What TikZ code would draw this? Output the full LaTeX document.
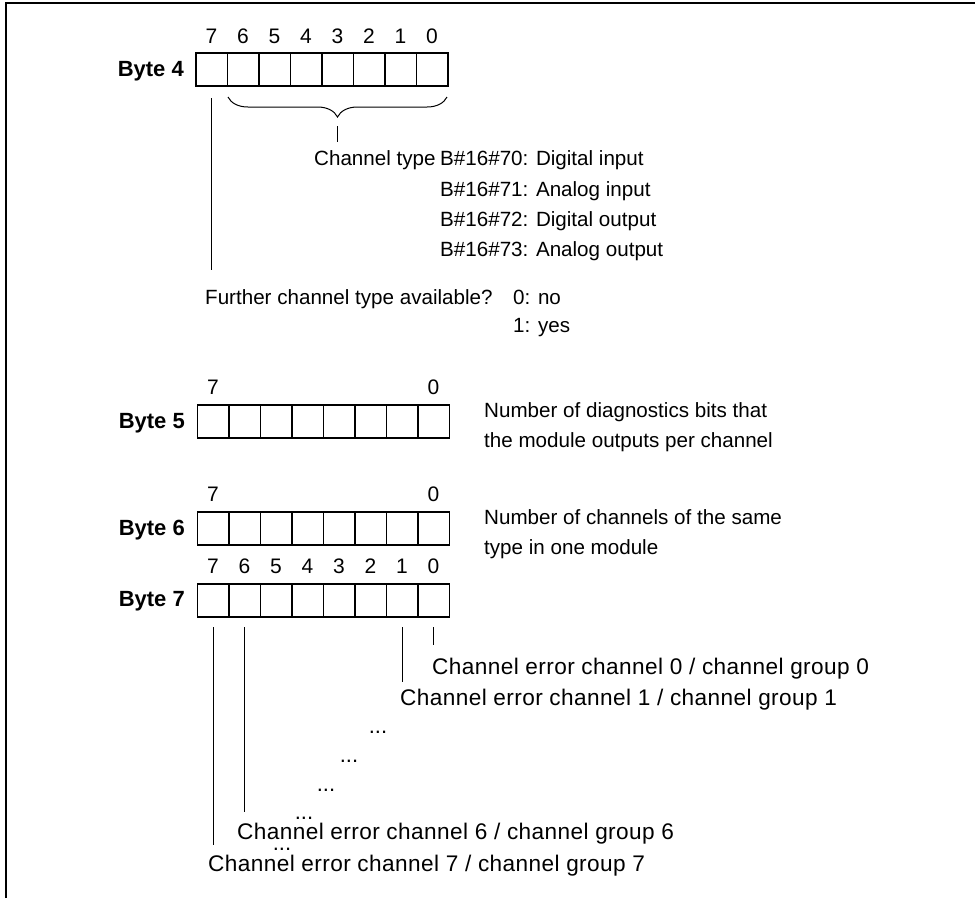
\documentclass[tikz,border=0pt]{standalone}
\usepackage{fontspec}
\setmainfont{Liberation Sans}
\newfontfamily\errfont[LetterSpace=1.8]{Liberation Sans}
\usetikzlibrary{decorations.pathreplacing}
\begin{document}
\begin{tikzpicture}[x=1pt,y=-1pt,
  txt/.style={anchor=base west, inner sep=0pt, font=\fontsize{20.6}{24}\selectfont},
  errtxt/.style={anchor=base west, inner sep=0pt, font=\errfont\fontsize{22.6}{27}\selectfont},
  bitlbl/.style={anchor=base, inner sep=0pt, font=\fontsize{21}{25}\selectfont},
  bytelbl/.style={anchor=base east, inner sep=0pt, font=\fontsize{22}{26}\selectfont\bfseries},
  dots/.style={anchor=base, inner sep=0pt, font=\fontsize{22}{26}\selectfont},
  cell/.style={draw, line width=1.5pt, minimum width=31.5pt, minimum height=33pt, inner sep=0pt, anchor=north west},
  lead/.style={line width=1pt},
  frame/.style={line width=2pt}]
\useasboundingbox (0,0) rectangle (975,898);
\draw[frame] (6,898) -- (6,3) -- (975,3);

% Byte 4
\foreach \k in {0,...,7}{
  \node[cell] (b4-\k) at (195+\k*31.5,52) {};
  \pgfmathtruncatemacro{\bit}{7-\k}
  \node[bitlbl] at (b4-\k.center |- 0,43.5) {\bit};
}
\node[bytelbl] (byte4) at (184,76.5) {Byte 4};
\coordinate (brA) at (228,97);
\coordinate (brB) at (447,97);
\draw[lead, decorate, decoration={brace, mirror, amplitude=20pt}] (brA) -- (brB);
\coordinate (tickA) at (337.5,126);
\coordinate (tickB) at (337.5,142);
\draw[lead] (tickA) -- (tickB);
\node[txt] (ctype) at (314,165) {Channel type};
\node[txt] (t70) at (440,165) {B\#16\#70: Digital input};
\node[txt] (t71) at (440,196) {B\#16\#71: Analog input};
\node[txt] (t72) at (440,226) {B\#16\#72: Digital output};
\node[txt] (t73) at (440,256) {B\#16\#73: Analog output};
\coordinate (f4a) at (b4-0.center |- 0,98);
\coordinate (f4b) at (b4-0.center |- 0,270);
\draw[lead] (f4a) -- (f4b);
\node[txt] (further) at (205,304) {Further channel type available?};
\node[txt] (no) at (513,304) {0: no};
\node[txt] (yes) at (513,332) {1: yes};

% Byte 5
\foreach \k in {0,...,7}{
  \node[cell] (b5-\k) at (196.5+\k*31.5,404) {};
}
\node[bitlbl] at (b5-0.center |- 0,394) {7};
\node[bitlbl] at (b5-7.center |- 0,394) {0};
\node[bytelbl] (byte5) at (185,428) {Byte 5};
\node[txt] (n5a) at (484,417) {Number of diagnostics bits that};
\node[txt] (n5b) at (484,447) {the module outputs per channel};

% Byte 6
\foreach \k in {0,...,7}{
  \node[cell] (b6-\k) at (196.5+\k*31.5,511) {};
}
\node[bitlbl] at (b6-0.center |- 0,501) {7};
\node[bitlbl] at (b6-7.center |- 0,501) {0};
\node[bytelbl] (byte6) at (185,535) {Byte 6};
\node[txt] (n6a) at (484,524) {Number of channels of the same};
\node[txt] (n6b) at (484,554) {type in one module};

% Byte 7
\foreach \k in {0,...,7}{
  \node[cell] (b7-\k) at (196.5+\k*31.5,583) {};
  \pgfmathtruncatemacro{\bit}{7-\k}
  \node[bitlbl] at (b7-\k.center |- 0,573) {\bit};
}
\node[bytelbl] (byte7) at (185,606) {Byte 7};

\coordinate (l0a) at (b7-7.center |- 0,627);
\coordinate (l0b) at (b7-7.center |- 0,645);
\coordinate (l1a) at (b7-6.center |- 0,627);
\coordinate (l1b) at (b7-6.center |- 0,682);
\coordinate (l6a) at (b7-1.center |- 0,627);
\coordinate (l6b) at (b7-1.center |- 0,812);
\coordinate (l7a) at (b7-0.center |- 0,627);
\coordinate (l7b) at (b7-0.center |- 0,845);
\draw[lead] (l0a) -- (l0b);
\draw[lead] (l1a) -- (l1b);
\draw[lead] (l6a) -- (l6b);
\draw[lead] (l7a) -- (l7b);

\node[errtxt] (ce0) at (432,674) {Channel error channel 0 / channel group 0};
\node[errtxt] (ce1) at (400,705) {Channel error channel 1 / channel group 1};
\node[dots] (d1) at (378,733) {...};
\node[dots] (d2) at (349,762) {...};
\node[dots] (d3) at (326,791) {...};
\node[dots] (d4) at (304,819) {...};
\node[errtxt] (ce6) at (237,839) {Channel error channel 6 / channel group 6};
\node[dots] (d5) at (282,850) {...};
\node[errtxt] (ce7) at (208,871) {Channel error channel 7 / channel group 7};
\end{tikzpicture}
\end{document}
